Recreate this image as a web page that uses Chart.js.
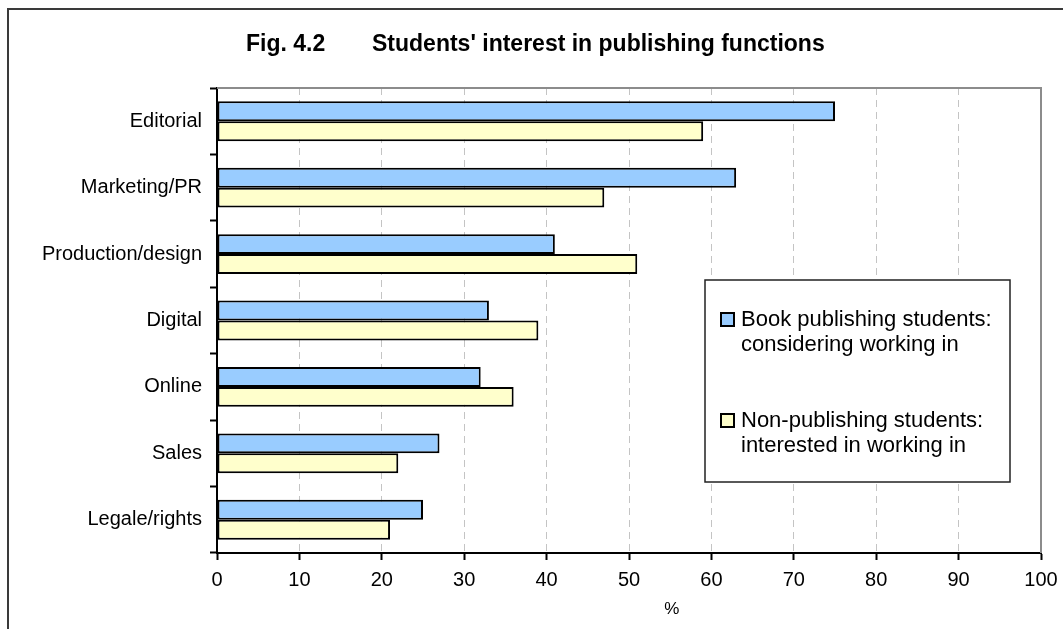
<!DOCTYPE html>
<html>
<head>
<meta charset="utf-8">
<script src="https://cdn.jsdelivr.net/npm/chart.js@4/dist/chart.umd.min.js"></script>
<style>
  html, body { margin: 0; padding: 0; background: #fff; }
  #wrap { width: 1063px; height: 629px; position: relative; }
</style>
</head>
<body>
<div id="wrap"><canvas id="c"></canvas></div>
<script>
// Publishing functions, top to bottom
const functions = ['Editorial', 'Marketing/PR', 'Production/design', 'Digital', 'Online', 'Sales', 'Legale/rights'];
// % of book publishing students considering working in each function
const bookStudents = [75, 63, 41, 33, 32, 27, 25];
// % of non-publishing students interested in working in each function
const nonPubStudents = [59, 47, 51, 39, 36, 22, 21];
// Legend text, one entry per series, split into its two lines
const seriesLines = [
  ['Book publishing students:', 'considering working in'],
  ['Non-publishing students:', 'interested in working in']
];
const xTicks = [0, 10, 20, 30, 40, 50, 60, 70, 80, 90, 100];
const titleFig = 'Fig. 4.2';
const titleText = "Students' interest in publishing functions";
const xAxisTitle = '%';

const FONT = "'Liberation Sans', Arial, sans-serif";
const BLUE = '#99CCFF';
const CREAM = '#FFFFCC';

// Frame, title, plot outline, axis caption and the boxed legend
const decor = {
  id: 'decor',
  afterDraw(chart) {
    const ctx = chart.ctx;
    const a = chart.chartArea;
    ctx.save();

    // outer frame (runs off the right and bottom edges)
    ctx.strokeStyle = '#3a3a3a';
    ctx.lineWidth = 2;
    ctx.beginPath();
    ctx.moveTo(8, chart.height + 5);
    ctx.lineTo(8, 9);
    ctx.lineTo(chart.width + 5, 9);
    ctx.stroke();

    // grey outline on the top and right of the plot area
    ctx.strokeStyle = '#8c8c8c';
    ctx.lineWidth = 2;
    ctx.beginPath();
    ctx.moveTo(a.left, a.top);
    ctx.lineTo(a.right, a.top);
    ctx.lineTo(a.right, a.bottom);
    ctx.stroke();

    // title
    ctx.fillStyle = '#000';
    ctx.font = 'bold 23px ' + FONT;
    ctx.textBaseline = 'alphabetic';
    ctx.textAlign = 'left';
    ctx.fillText(titleFig, 246, 51);
    ctx.fillText(titleText, 372, 51);

    // x axis caption
    ctx.font = '17px ' + FONT;
    ctx.textAlign = 'center';
    ctx.fillText(xAxisTitle, a.left + (a.right - a.left) * 0.552, 614);

    // legend box
    const lx = 705, ly = 280, lw = 305, lh = 202;
    ctx.fillStyle = '#fff';
    ctx.fillRect(lx, ly, lw, lh);
    ctx.strokeStyle = '#222';
    ctx.lineWidth = 1.5;
    ctx.strokeRect(lx, ly, lw, lh);

    ctx.font = '22px ' + FONT;
    ctx.textAlign = 'left';
    chart.data.datasets.forEach((ds, i) => {
      const baseY = 326 + i * 101;
      ctx.fillStyle = ds.backgroundColor;
      ctx.fillRect(721, baseY - 13, 13, 13);
      ctx.strokeStyle = '#000';
      ctx.lineWidth = 2;
      ctx.strokeRect(721, baseY - 13, 13, 13);
      ctx.fillStyle = '#000';
      seriesLines[i].forEach((line, j) => {
        ctx.fillText(line, 741, baseY + j * 25);
      });
    });
    ctx.restore();
  }
};

new Chart(document.getElementById('c'), {
  type: 'bar',
  data: {
    labels: functions,
    datasets: [
      {
        label: seriesLines[0].join(' '),
        data: bookStudents,
        backgroundColor: BLUE,
        borderColor: '#000',
        borderWidth: 2,
        borderSkipped: false
      },
      {
        label: seriesLines[1].join(' '),
        data: nonPubStudents,
        backgroundColor: CREAM,
        borderColor: '#000',
        borderWidth: 2,
        borderSkipped: false
      }
    ]
  },
  options: {
    indexAxis: 'y',
    responsive: true,
    maintainAspectRatio: false,
    animation: false,
    events: [],
    categoryPercentage: 0.6,
    barPercentage: 1.0,
    layout: { padding: { top: 88, right: 22, left: 0, bottom: 0 } },
    plugins: {
      legend: { display: false },
      title: { display: false },
      tooltip: { enabled: false }
    },
    scales: {
      x: {
        min: 0,
        max: 100,
        afterBuildTicks(scale) { scale.ticks = xTicks.map(v => ({ value: v })); },
        afterFit(scale) {
          scale.height = 76;
          scale.paddingLeft = 0;
          scale.paddingRight = 0;
        },
        ticks: {
          color: '#000',
          font: { family: FONT, size: 20 },
          padding: 8,
          maxRotation: 0
        },
        grid: {
          color: '#c4c4c4',
          lineWidth: 1,
          tickLength: 7,
          tickColor: '#000',
          tickWidth: 2
        },
        border: { display: true, color: '#000', width: 2, dash: [7, 5] }
      },
      y: {
        afterFit(scale) {
          scale.width = 217;
          scale.paddingTop = 0;
          scale.paddingBottom = 0;
        },
        ticks: {
          color: '#000',
          font: { family: FONT, size: 20 },
          padding: 8
        },
        grid: {
          offset: true,
          drawOnChartArea: false,
          drawTicks: true,
          tickLength: 7,
          tickColor: '#000',
          tickWidth: 2
        },
        border: { display: true, color: '#000', width: 2 }
      }
    }
  },
  plugins: [decor]
});
</script>
</body>
</html>
